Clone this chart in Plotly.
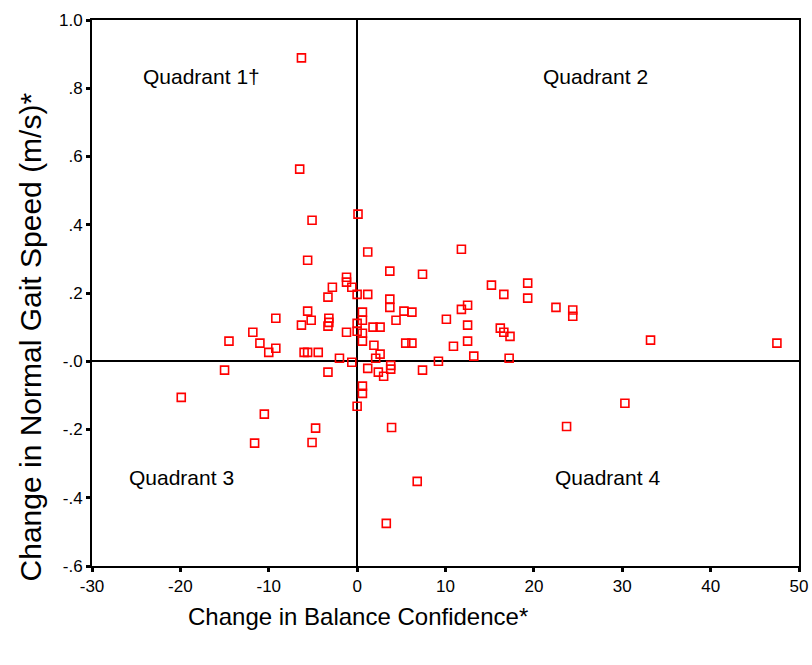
import plotly.graph_objects as go

# Change in Balance Confidence (x) and Change in Normal Gait Speed (y)
balance_change = [
    -6.3, -6.5, -5.1, 0.1, -5.6, 1.2, 3.7, 7.4, 11.8, -1.2,
    -1.2, -2.8, -0.6, -3.3, 0.0, 1.2, 3.7, 3.7, -5.6, 0.6,
    -9.2, -5.2, -3.2, -3.2, -3.3, -6.3, 0.6, 4.4, 0.0, 0.0,
    -1.2, 1.8, 2.6, 0.6, 0.6, -11.8, -14.5, -11.0, -9.2, -10.0,
    1.9, 2.6, -6.0, -5.6, -4.4, -2.0, -0.6, 2.1, -15.0, -3.3,
    1.2, 2.4, 3.0, 3.8, 3.8, 0.6, 0.6, 0.0, -10.5, -4.7,
    3.9, -11.6, -5.1, -19.9, 6.8, 3.3, 15.2, 16.6, 19.3, 19.3,
    5.3, 6.2, 12.5, 11.8, 22.5, 24.4, 24.4, 10.1, 12.5, 16.2,
    16.6, 17.3, 5.5, 6.2, 10.9, 12.5, 13.2, 17.2, 9.2, 7.4,
    33.2, 47.5, 30.3, 23.7,
]
gait_speed_change = [
    0.889, 0.563, 0.413, 0.431, 0.296, 0.320, 0.264, 0.255, 0.328, 0.246,
    0.232, 0.217, 0.217, 0.188, 0.196, 0.196, 0.182, 0.158, 0.147, 0.144,
    0.126, 0.120, 0.126, 0.114, 0.103, 0.106, 0.120, 0.120, 0.111, 0.088,
    0.085, 0.100, 0.100, 0.082, 0.059, 0.085, 0.059, 0.053, 0.038, 0.026,
    0.047, 0.021, 0.026, 0.026, 0.026, 0.009, -0.003, 0.009, -0.026, -0.032,
    -0.021, -0.032, -0.044, -0.012, -0.023, -0.073, -0.094, -0.132, -0.155, -0.196,
    -0.194, -0.240, -0.238, -0.106, -0.352, -0.475, 0.223, 0.196, 0.229, 0.185,
    0.147, 0.144, 0.164, 0.152, 0.158, 0.150, 0.132, 0.123, 0.106, 0.097,
    0.085, 0.073, 0.053, 0.053, 0.044, 0.059, 0.015, 0.009, 0.000, -0.026,
    0.062, 0.053, -0.123, -0.191,
]

x_ticks = [-30, -20, -10, 0, 10, 20, 30, 40, 50]
x_tick_labels = ["-30", "-20", "-10", "0", "10", "20", "30", "40", "50"]
y_ticks = [1.0, 0.8, 0.6, 0.4, 0.2, 0.0, -0.2, -0.4, -0.6]
y_tick_labels = ["1.0", ".8", ".6", ".4", ".2", "-.0", "-.2", "-.4", "-.6"]

quadrant_labels = ["Quadrant 1\u2020", "Quadrant 2", "Quadrant 3", "Quadrant 4"]
quadrant_x = [-17.6, 27.0, -19.9, 28.3]
quadrant_y = [0.833, 0.833, -0.34, -0.34]

x_title = "Change in Balance Confidence*"
y_title = "Change in Normal Gait Speed (m/s)*"

fig = go.Figure()
fig.add_trace(go.Scatter(
    x=balance_change, y=gait_speed_change, mode="markers",
    marker=dict(symbol="square-open", size=8, color="#ff0000",
                line=dict(width=1.6, color="#ff0000")),
    showlegend=False, hoverinfo="x+y",
))

for lab, qx, qy in zip(quadrant_labels, quadrant_x, quadrant_y):
    fig.add_annotation(x=qx, y=qy, text=lab, showarrow=False,
                       font=dict(family="Liberation Sans, Arial", size=21, color="#000"))

# axis titles (placed as in the reference, offset from the plot centre)
fig.add_annotation(xref="paper", yref="paper", x=0.3766, y=-0.0934,
                   xanchor="center", yanchor="middle", text=x_title, showarrow=False,
                   font=dict(family="Liberation Sans, Arial", size=24, color="#000"))
fig.add_annotation(xref="paper", yref="paper", x=-0.0874, y=0.419,
                   xanchor="center", yanchor="middle", text=y_title, showarrow=False,
                   textangle=-90,
                   font=dict(family="Liberation Sans, Arial", size=30, color="#000"))

axis_common = dict(
    showline=True, linecolor="black", linewidth=2, mirror=True,
    showgrid=False, zeroline=True, zerolinecolor="black", zerolinewidth=2,
    ticks="outside", ticklen=4, tickwidth=3, tickcolor="black",
    automargin=False,
    tickfont=dict(family="Liberation Sans Narrow, Liberation Sans, Arial", size=17, color="#000"),
)

fig.update_xaxes(range=[-30, 50], tickvals=x_ticks, ticktext=x_tick_labels, **axis_common)
fig.update_yaxes(range=[-0.6, 1.0], tickvals=y_ticks, ticktext=y_tick_labels, **axis_common)

fig.update_layout(
    width=812, height=665,
    margin=dict(l=92, r=13, t=20, b=99),
    plot_bgcolor="white", paper_bgcolor="white",
)

# remove the default page margin so the figure fills the window exactly
fig.write_html("out.html",
               config={"displayModeBar": False},
               post_script="document.body.style.margin='0';document.body.style.overflow='hidden';")
